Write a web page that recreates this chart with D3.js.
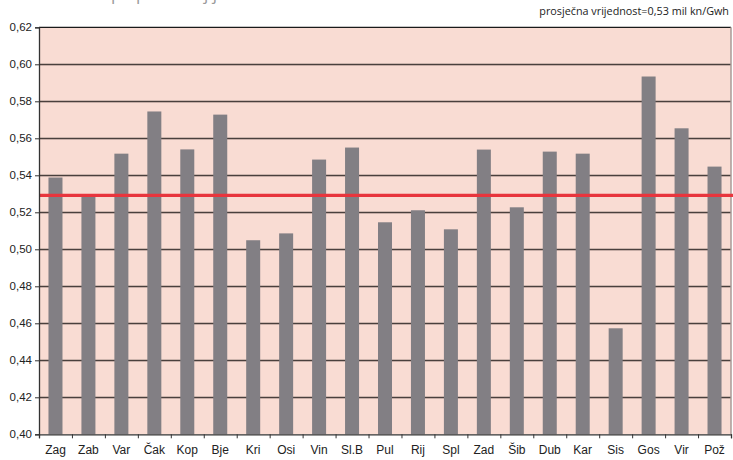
<!DOCTYPE html>
<html>
<head>
<meta charset="utf-8">
<script src="https://cdn.jsdelivr.net/npm/d3@7"></script>
<style>
  body { margin: 0; background: #fff; }
  svg { display: block; font-family: "Open Sans", "Noto Sans", sans-serif; }
</style>
</head>
<body>
<svg id="chart"></svg>
<script>
// Data.
const categories = ['Zag', 'Zab', 'Var', 'Čak', 'Kop', 'Bje', 'Kri', 'Osi', 'Vin', 'Sl.B', 'Pul',
  'Rij', 'Spl', 'Zad', 'Šib', 'Dub', 'Kar', 'Sis', 'Gos', 'Vir', 'Pož'];
const values = [0.5388, 0.5285, 0.5517, 0.5745, 0.5540, 0.5728, 0.5049, 0.5086, 0.5485, 0.5550, 0.5146,
  0.5211, 0.5108, 0.5539, 0.5227, 0.5528, 0.5517, 0.4573, 0.5934, 0.5654, 0.5447];
const average = 0.5292;
const yTicks = [0.40, 0.42, 0.44, 0.46, 0.48, 0.50, 0.52, 0.54, 0.56, 0.58, 0.60, 0.62];
const titleText = 'Troškovi po prodanoj jedinici';
const noteText = 'prosječna vrijednost=0,53 mil kn/Gwh';

const width = 733;
const height = 460;
const margin = {top: 27.3, right: 2, bottom: 25.7, left: 39};

const svg = d3.select('#chart').attr('width', width).attr('height', height);

const x = d3.scaleBand()
    .domain(categories)
    .range([margin.left, width - margin.right])
    .paddingInner(0.575)
    .paddingOuter(0.2875);
const y = d3.scaleLinear()
    .domain([0.40, 0.62])
    .range([height - margin.bottom, margin.top]);

// Plot background.
svg.append('rect')
    .attr('x', margin.left)
    .attr('y', margin.top)
    .attr('width', width - margin.left - margin.right)
    .attr('height', height - margin.top - margin.bottom)
    .attr('fill', '#f9dcd3');

// Gridlines.
const grid = svg.append('g');
grid.selectAll('line.shade')
    .data(yTicks.slice(1, -1))
    .join('line')
    .attr('x1', margin.left).attr('x2', width - margin.right)
    .attr('y1', d => y(d) + 1).attr('y2', d => y(d) + 1)
    .attr('stroke', '#b9a29b').attr('stroke-width', 1);
grid.selectAll('line.main')
    .data(yTicks.slice(1))
    .join('line')
    .attr('x1', margin.left).attr('x2', width - margin.right)
    .attr('y1', d => y(d)).attr('y2', d => y(d))
    .attr('stroke', d => d === 0.62 ? '#1a1a1a' : '#4a403d')
    .attr('stroke-width', 1.3);

// Right border.
svg.append('line')
    .attr('x1', width - margin.right).attr('x2', width - margin.right)
    .attr('y1', margin.top).attr('y2', height - margin.bottom)
    .attr('stroke', '#a89a97').attr('stroke-width', 1.5);

// Bars.
svg.append('g')
    .selectAll('rect')
    .data(values)
    .join('rect')
    .attr('x', (d, i) => x(categories[i]))
    .attr('y', d => y(d))
    .attr('width', x.bandwidth())
    .attr('height', d => y(0.40) - y(d))
    .attr('fill', '#827f84');

// Average line.
svg.append('line')
    .attr('x1', margin.left).attr('x2', width)
    .attr('y1', y(average)).attr('y2', y(average))
    .attr('stroke', '#e8353d').attr('stroke-width', 3.2);

// Y axis.
svg.append('g')
    .attr('transform', `translate(${margin.left},0)`)
    .call(d3.axisLeft(y)
        .tickValues(yTicks)
        .tickSize(4)
        .tickPadding(3)
        .tickFormat(d => d.toFixed(2).replace('.', ',')))
    .call(g => g.select('.domain').attr('stroke', '#333').attr('stroke-width', 1.3))
    .call(g => g.selectAll('.tick line').attr('stroke', '#333'))
    .call(g => g.selectAll('text').attr('fill', '#222').attr('font-size', 11.5));

// X axis: ticks at band edges, labels at band centres.
const edges = d3.scaleLinear()
    .domain([0, categories.length])
    .range([margin.left, width - margin.right]);
svg.append('g')
    .attr('transform', `translate(0,${height - margin.bottom})`)
    .call(d3.axisBottom(edges)
        .tickValues(d3.range(categories.length + 1))
        .tickSize(4)
        .tickFormat(''))
    .call(g => g.select('.domain').attr('stroke', '#333').attr('stroke-width', 1.3))
    .call(g => g.selectAll('.tick line').attr('stroke', '#333'));
svg.append('g')
    .attr('transform', `translate(0,${height - margin.bottom})`)
    .call(d3.axisBottom(x).tickSize(0).tickPadding(11))
    .call(g => g.select('.domain').remove())
    .call(g => g.selectAll('text').attr('fill', '#222').attr('font-size', 12));

// Texts. The title sits above the top edge, as in the reference.
svg.append('text')
    .attr('x', 40).attr('y', 0)
    .attr('font-size', 17)
    .attr('fill', '#9a9a9a')
    .text(titleText);
svg.append('text')
    .attr('x', 729).attr('y', 15)
    .attr('text-anchor', 'end')
    .attr('font-size', 10.8)
    .attr('fill', '#222')
    .text(noteText);
</script>
</body>
</html>
